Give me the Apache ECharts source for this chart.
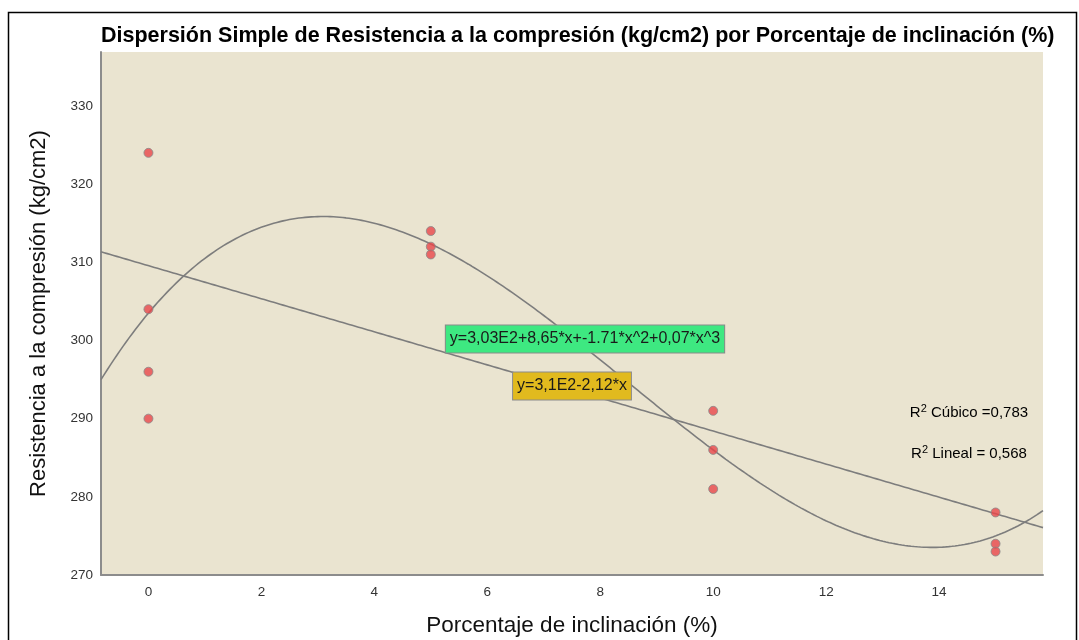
<!DOCTYPE html>
<html>
<head>
<meta charset="utf-8">
<script src="https://cdn.jsdelivr.net/npm/echarts@6/dist/echarts.min.js"></script>
<style>
  html, body { margin: 0; padding: 0; background: #fff; }
  #chart { width: 1079px; height: 640px; }
</style>
</head>
<body>
<div id="chart"></div>
<script>
// Observations: inclination (%) and compressive strength (kg/cm2)
const inclinacion = [0, 0, 0, 0, 5, 5, 5, 10, 10, 10, 15, 15, 15];
const resistencia = [324, 304, 296, 290, 314, 312, 311, 291, 286, 281, 278, 274, 273];

const xTicks = [0, 2, 4, 6, 8, 10, 12, 14];
const yTicks = [270, 280, 290, 300, 310, 320, 330];

const titulo = 'Dispersión Simple de Resistencia a la compresión (kg/cm2) por Porcentaje de inclinación (%)';
const ecCubica = 'y=3,03E2+8,65*x+-1.71*x^2+0,07*x^3';
const ecLineal = 'y=3,1E2-2,12*x';
const r2Cubico = '0,783';
const r2Lineal = '0,568';

const X_MIN = -0.84, X_MAX = 15.84, Y_MIN = 270, Y_MAX = 336.9;
const FONT = '"Liberation Sans", Arial, sans-serif';

// Least-squares polynomial fit of given degree (normal equations)
function polyFit(xs, ys, deg) {
  const n = deg + 1;
  const A = [];
  for (let i = 0; i < n; i++) {
    A.push(new Array(n + 1).fill(0));
    for (let j = 0; j < n; j++) {
      A[i][j] = xs.reduce((s, x) => s + Math.pow(x, i + j), 0);
    }
    A[i][n] = xs.reduce((s, x, k) => s + Math.pow(x, i) * ys[k], 0);
  }
  for (let c = 0; c < n; c++) {
    let p = c;
    for (let r = c + 1; r < n; r++) if (Math.abs(A[r][c]) > Math.abs(A[p][c])) p = r;
    [A[c], A[p]] = [A[p], A[c]];
    for (let r = 0; r < n; r++) {
      if (r === c) continue;
      const f = A[r][c] / A[c][c];
      for (let k = c; k <= n; k++) A[r][k] -= f * A[c][k];
    }
  }
  return A.map((row, i) => row[n] / row[i]);
}
function curve(coef) {
  const pts = [];
  const steps = 300;
  for (let i = 0; i <= steps; i++) {
    const x = X_MIN + (X_MAX - X_MIN) * i / steps;
    const y = coef.reduce((s, c, k) => s + c * Math.pow(x, k), 0);
    pts.push([x, y]);
  }
  return pts;
}

const coefLin = polyFit(inclinacion, resistencia, 1);
const coefCub = polyFit(inclinacion, resistencia, 3);
const puntos = inclinacion.map((x, i) => [x, resistencia[i]]);

const chart = echarts.init(document.getElementById('chart'));
const fitLine = { color: '#7d7d7d', width: 1.6 };
const r2Rich = {
  t: { fontFamily: FONT, fontSize: 15, color: '#1a1a1a' },
  s: { fontFamily: FONT, fontSize: 11, color: '#1a1a1a', verticalAlign: 'top', padding: [0, 0, 8, 0] }
};

chart.setOption({
  animation: false,
  backgroundColor: '#ffffff',
  grid: {
    left: 101, right: 36, top: 52, bottom: 65,
    outerBoundsMode: 'none', containLabel: false,
    show: true, backgroundColor: '#EAE4D0', borderWidth: 0
  },
  xAxis: {
    type: 'value', min: X_MIN, max: X_MAX,
    name: 'Porcentaje de inclinación (%)',
    nameLocation: 'middle', nameGap: 39,
    nameTextStyle: { fontFamily: FONT, fontSize: 22.5, color: '#111' },
    axisLine: { show: true, onZero: false, lineStyle: { color: '#8c8c8c', width: 2 } },
    axisTick: { show: false },
    splitLine: { show: false },
    axisLabel: {
      customValues: xTicks, margin: 10,
      fontFamily: FONT, fontSize: 13.5, color: '#333'
    }
  },
  yAxis: {
    type: 'value', min: Y_MIN, max: Y_MAX,
    axisLine: { show: true, onZero: false, lineStyle: { color: '#8c8c8c', width: 2 } },
    axisTick: { show: false },
    splitLine: { show: false },
    axisLabel: {
      customValues: yTicks, margin: 8,
      fontFamily: FONT, fontSize: 13.5, color: '#333'
    }
  },
  series: [
    {
      type: 'line', data: curve(coefLin), showSymbol: false, symbol: 'none',
      lineStyle: fitLine, z: 2, silent: true
    },
    {
      type: 'line', data: curve(coefCub), showSymbol: false, symbol: 'none',
      lineStyle: fitLine, z: 2, silent: true
    },
    {
      type: 'scatter', data: puntos, symbolSize: 9, z: 3,
      itemStyle: { color: '#E8464A', borderColor: '#8a8a8a', borderWidth: 1 }
    }
  ],
  graphic: [
    {
      type: 'rect', silent: true, z: 0,
      shape: { x: 8.5, y: 12.5, width: 1068, height: 640 },
      style: { fill: 'none', stroke: '#000', lineWidth: 1.5 }
    },
    {
      type: 'text', x: 101, y: 36, z: 10,
      style: {
        text: titulo, fill: '#000',
        font: 'bold 21.5px ' + FONT,
        align: 'left', verticalAlign: 'middle'
      }
    },
    {
      type: 'text', x: 39, y: 313.5, rotation: Math.PI / 2, z: 10,
      style: {
        text: 'Resistencia a la compresión (kg/cm2)', fill: '#111',
        font: '22px ' + FONT,
        align: 'center', verticalAlign: 'middle'
      }
    },
    {
      type: 'text', x: 585, y: 339, z: 10,
      style: {
        text: ecCubica, fill: '#1a1a1a',
        font: '16px ' + FONT,
        align: 'center', verticalAlign: 'middle',
        backgroundColor: '#3EE881', borderColor: '#8a8a8a', borderWidth: 1,
        padding: [6, 4, 5, 4]
      }
    },
    {
      type: 'text', x: 572, y: 386, z: 10,
      style: {
        text: ecLineal, fill: '#1a1a1a',
        font: '16px ' + FONT,
        align: 'center', verticalAlign: 'middle',
        backgroundColor: '#E1BA1E', borderColor: '#8a8a8a', borderWidth: 1,
        padding: [6, 4, 5, 4]
      }
    },
    {
      type: 'text', x: 969, y: 413, z: 10,
      style: {
        text: '{t|R}{s|2}{t| Cúbico =' + r2Cubico + '}',
        align: 'center', verticalAlign: 'middle',
        rich: r2Rich
      }
    },
    {
      type: 'text', x: 969, y: 454, z: 10,
      style: {
        text: '{t|R}{s|2}{t| Lineal = ' + r2Lineal + '}',
        align: 'center', verticalAlign: 'middle',
        rich: r2Rich
      }
    }
  ]
});
</script>
</body>
</html>
